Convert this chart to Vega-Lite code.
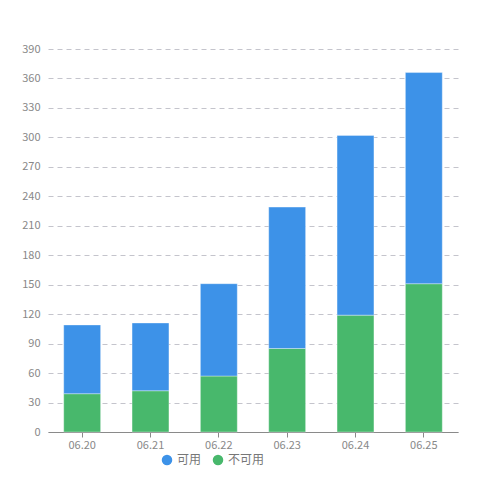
{
  "$schema": "https://vega.github.io/schema/vega-lite/v6.json",
  "autosize": {"type": "none"},
  "width": 410,
  "height": 383,
  "padding": {"left": 48, "top": 49, "right": 42, "bottom": 68},
  "background": "#ffffff",
  "config": {
    "view": {"stroke": null},
    "font": "Noto Sans CJK SC"
  },
  "data": {
    "values": [
      {"date": "06.20", "status": "不可用", "value": 39},
      {"date": "06.20", "status": "可用", "value": 70},
      {"date": "06.21", "status": "不可用", "value": 42},
      {"date": "06.21", "status": "可用", "value": 69},
      {"date": "06.22", "status": "不可用", "value": 57},
      {"date": "06.22", "status": "可用", "value": 94},
      {"date": "06.23", "status": "不可用", "value": 85},
      {"date": "06.23", "status": "可用", "value": 144},
      {"date": "06.24", "status": "不可用", "value": 119},
      {"date": "06.24", "status": "可用", "value": 183},
      {"date": "06.25", "status": "不可用", "value": 151},
      {"date": "06.25", "status": "可用", "value": 215}
    ]
  },
  "mark": {"type": "bar", "stroke": "#ffffff", "strokeOpacity": 0.35, "strokeWidth": 1},
  "encoding": {
    "x": {
      "field": "date",
      "type": "ordinal",
      "scale": {"paddingInner": 0.46, "paddingOuter": 0.23},
      "axis": {
        "title": null,
        "labelAngle": 0,
        "labelColor": "#888888",
        "labelFontSize": 11,
        "labelPadding": 2,
        "domainColor": "#8a8a8a",
        "tickColor": "#8a8a8a",
        "tickSize": 5,
        "grid": false
      }
    },
    "y": {
      "field": "value",
      "type": "quantitative",
      "stack": "zero",
      "scale": {"domain": [0, 390], "nice": false},
      "axis": {
        "title": null,
        "values": [0, 30, 60, 90, 120, 150, 180, 210, 240, 270, 300, 330, 360, 390],
        "labelColor": "#888888",
        "labelFontSize": 11,
        "labelPadding": 8,
        "domain": false,
        "ticks": false,
        "grid": true,
        "gridColor": "#c4c4cc",
        "gridDash": [5, 4],
        "gridWidth": 1
      }
    },
    "color": {
      "field": "status",
      "type": "nominal",
      "scale": {"domain": ["可用", "不可用"], "range": ["#3d92e8", "#48b86c"]},
      "legend": {
        "title": null,
        "orient": "none",
        "direction": "horizontal",
        "legendX": 113,
        "legendY": 405,
        "symbolType": "circle",
        "symbolSize": 110,
        "symbolStrokeWidth": 0,
        "labelColor": "#777777",
        "labelFontSize": 12,
        "columnPadding": 10,
        "labelOffset": 4
      }
    },
    "order": {"field": "status", "sort": "ascending"}
  }
}
